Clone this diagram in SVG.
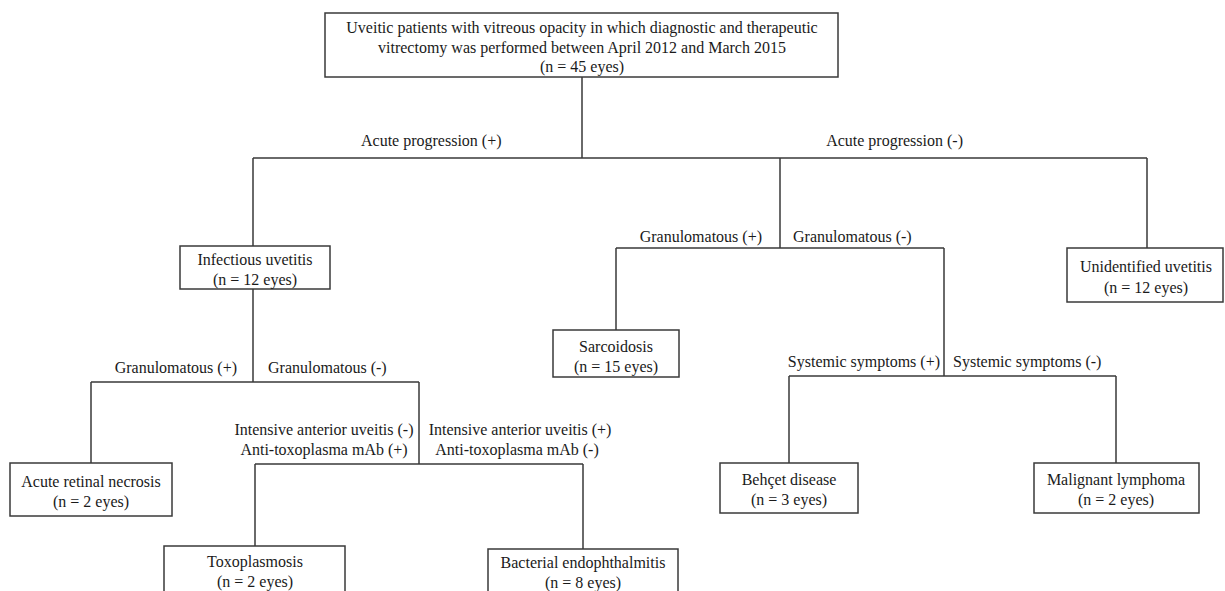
<svg xmlns="http://www.w3.org/2000/svg" width="1225" height="591" viewBox="0 0 1225 591">
<style>
.box{fill:#fff;stroke:#3a3a3a;stroke-width:1.5}
.ln{fill:none;stroke:#3a3a3a;stroke-width:1.5}
text{font-family:"Liberation Serif","Times New Roman",serif;font-size:16px;fill:#1a1a1a}
.c{text-anchor:middle}
.e{text-anchor:end}
</style>
<rect width="1225" height="591" fill="#fff"/>
<g id="connectors">
<path class="ln" d="M582 77V158M253 158H1147M253 158V246M780 158V248M1147 158V248"/>
<path class="ln" d="M253 289V382M91 382H419M91 382V463M419 382V464M255 464H583M255 464V546M583 464V549"/>
<path class="ln" d="M616 248H944M616 248V330M944 248V376M789 376H1116M789 376V463M1116 376V463"/>
</g>
<g id="labels">
<text x="361" y="146">Acute progression (+)</text>
<text x="963" y="146" class="e">Acute progression (-)</text>
<text x="762" y="242" class="e">Granulomatous (+)</text>
<text x="793" y="242">Granulomatous (-)</text>
<text x="237" y="373" class="e">Granulomatous (+)</text>
<text x="268" y="373">Granulomatous (-)</text>
<text x="324" y="435" class="c">Intensive anterior uveitis (-)</text>
<text x="324" y="455" class="c">Anti-toxoplasma mAb (+)</text>
<text x="520" y="435" class="c">Intensive anterior uveitis (+)</text>
<text x="517" y="455" class="c">Anti-toxoplasma mAb (-)</text>
<text x="940" y="367" class="e">Systemic symptoms (+)</text>
<text x="953" y="367">Systemic symptoms (-)</text>
</g>
<g id="root">
<rect class="box" x="325" y="13" width="513" height="64"/>
<text x="582" y="33" class="c">Uveitic patients with vitreous opacity in which diagnostic and therapeutic</text>
<text x="582" y="53" class="c">vitrectomy was performed between April 2012 and March 2015</text>
<text x="582" y="72" class="c">(n = 45 eyes)</text>
</g>
<g id="infectious">
<rect class="box" x="180" y="246" width="150" height="43"/>
<text x="255" y="265" class="c">Infectious uvetitis</text>
<text x="255" y="285" class="c">(n = 12 eyes)</text>
</g>
<g id="sarcoidosis">
<rect class="box" x="553" y="330" width="126" height="47"/>
<text x="616" y="352" class="c">Sarcoidosis</text>
<text x="616" y="372" class="c">(n = 15 eyes)</text>
</g>
<g id="unidentified">
<rect class="box" x="1067" y="248" width="156" height="54"/>
<text x="1146" y="272" class="c">Unidentified uvetitis</text>
<text x="1146" y="293" class="c">(n = 12 eyes)</text>
</g>
<g id="arn">
<rect class="box" x="10" y="463" width="162" height="53"/>
<text x="91" y="487" class="c">Acute retinal necrosis</text>
<text x="91" y="507" class="c">(n = 2 eyes)</text>
</g>
<g id="toxoplasmosis">
<rect class="box" x="164" y="546" width="181" height="60"/>
<text x="255" y="567" class="c">Toxoplasmosis</text>
<text x="255" y="587" class="c">(n = 2 eyes)</text>
</g>
<g id="bacterial">
<rect class="box" x="488" y="549" width="190" height="60"/>
<text x="583" y="568" class="c">Bacterial endophthalmitis</text>
<text x="583" y="588" class="c">(n = 8 eyes)</text>
</g>
<g id="behcet">
<rect class="box" x="720" y="463" width="138" height="50"/>
<text x="789" y="485" class="c">Behçet disease</text>
<text x="789" y="505" class="c">(n = 3 eyes)</text>
</g>
<g id="lymphoma">
<rect class="box" x="1034" y="463" width="165" height="50"/>
<text x="1116" y="485" class="c">Malignant lymphoma</text>
<text x="1116" y="505" class="c">(n = 2 eyes)</text>
</g>
</svg>
